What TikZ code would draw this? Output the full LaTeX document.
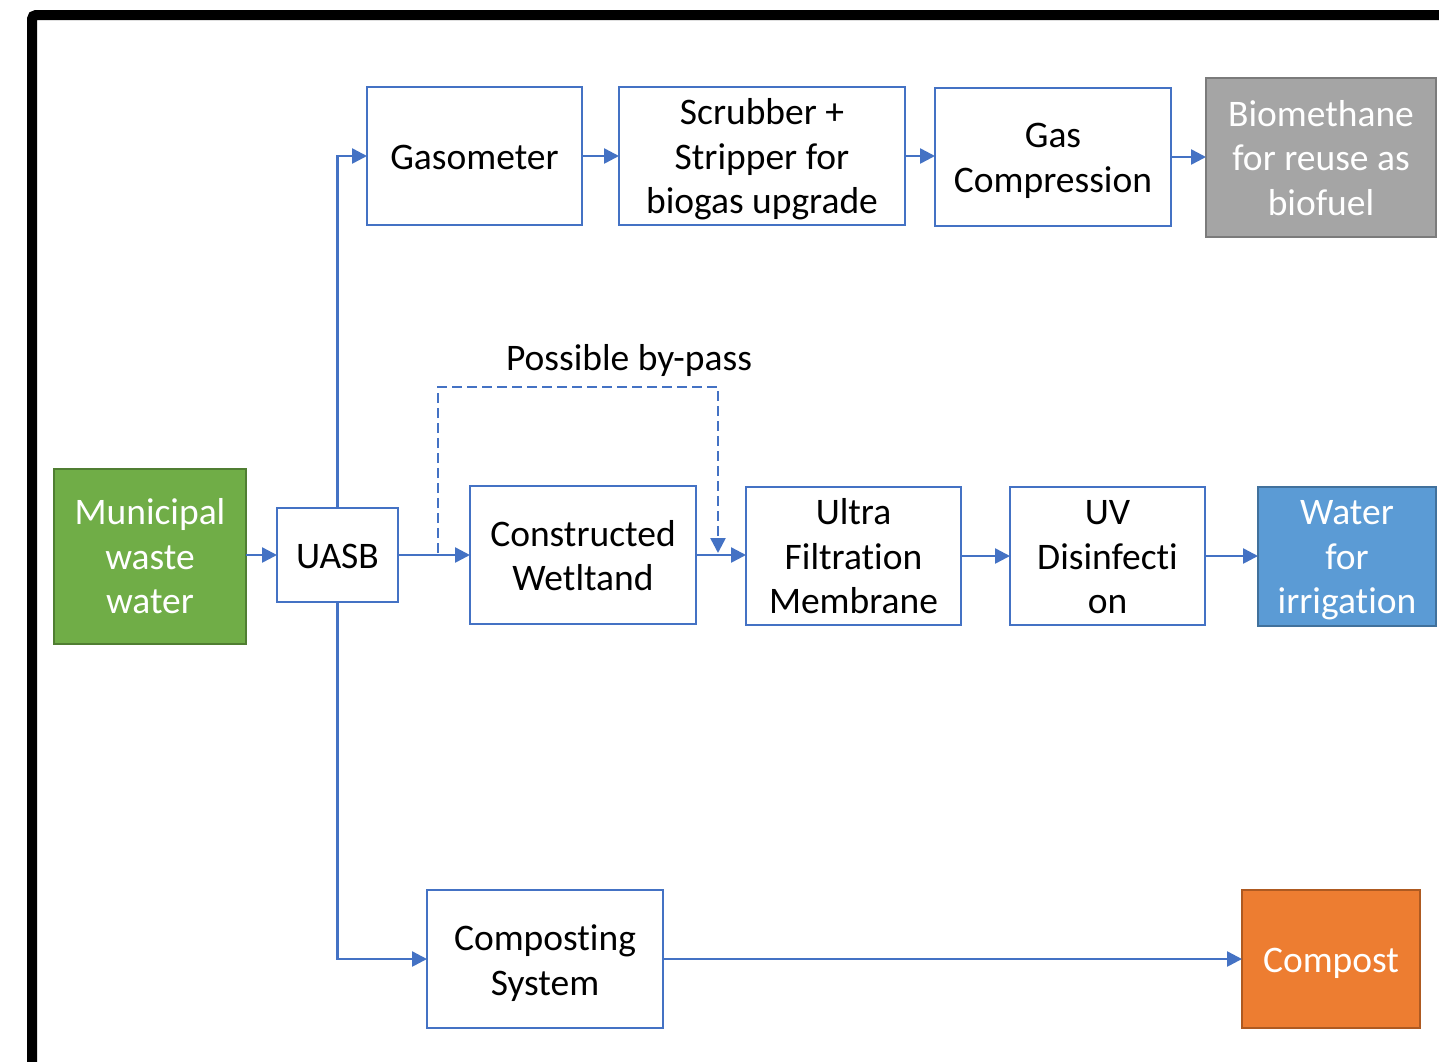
\documentclass[tikz,border=0pt]{standalone}
\usepackage{fontspec}
\setmainfont{Carlito}[Ligatures=NoCommon]
\usetikzlibrary{arrows.meta}
\definecolor{lblue}{HTML}{4472C4}
\definecolor{ggreen}{HTML}{70AD47}
\definecolor{ggreenb}{HTML}{507E32}
\definecolor{ggray}{HTML}{A5A5A5}
\definecolor{ggrayb}{HTML}{7B7B7B}
\definecolor{wblue}{HTML}{5B9BD5}
\definecolor{wblueb}{HTML}{41719C}
\definecolor{corange}{HTML}{ED7D31}
\definecolor{corangeb}{HTML}{AE5A21}
\newcommand\mltext[2][4.5pt]{\raisebox{-#1}[\height][\depth]{\begin{tabular}{@{}c@{}}#2\end{tabular}}}
\tikzset{
  box/.style={draw=lblue, line width=2.5pt, fill=white, inner sep=0pt, outer sep=0pt,
    align=center, font=\fontsize{37.5}{44.5}\selectfont},
  colbox/.style={box, text=white},
  arr/.style={draw=lblue, line width=2.5pt, -{Triangle[length=15pt,width=15pt]}},
  bypass/.style={arr, dash pattern=on 10pt off 5pt},
}
\begin{document}
\begin{tikzpicture}[x=1pt,y=1pt]
\useasboundingbox (0,0) rectangle (1439,-1061);
\clip (0,0) rectangle (1439,-1061);
\fill[white] (0,0) rectangle (1439,-1061);
\draw[black, line width=10pt, rounded corners=4pt] (32,-15) rectangle (1480,-1100);

\node[colbox, fill=ggreen, draw=ggreenb, minimum width=192pt, minimum height=175pt] (mww) at (150,-556.5) {\mltext[4pt]{Municipal\\waste\\water}};
\node[box, minimum width=121pt, minimum height=94pt] (uasb) at (337.5,-555) {\mltext[5pt]{UASB}};
\node[box, minimum width=215pt, minimum height=138pt] (gaso) at (474.5,-156) {\mltext[5pt]{Gasometer}};
\node[box, minimum width=286pt, minimum height=138pt] (scrub) at (762,-156) {\mltext[4.5pt]{Scrubber +\\Stripper for\\biogas upgrade}};
\node[box, minimum width=236pt, minimum height=138pt] (gcomp) at (1053,-157) {\mltext[4pt]{Gas\\Compression}};
\node[colbox, fill=ggray, draw=ggrayb, minimum width=230pt, minimum height=159pt] (bio) at (1321,-157.5) {\mltext[4.5pt]{Biomethane\\for reuse as\\biofuel}};
\node[box, minimum width=226pt, minimum height=138pt] (cw) at (583,-555) {\mltext[4.5pt]{Constructed\\Wetltand}};
\node[box, minimum width=215pt, minimum height=138pt] (uf) at (853.5,-556) {\mltext[4.5pt]{Ultra\\Filtration\\Membrane}};
\node[box, minimum width=195pt, minimum height=138pt] (uv) at (1107.5,-556) {\mltext[4.5pt]{UV\\Disinfecti\\on}};
\node[colbox, fill=wblue, draw=wblueb, minimum width=178pt, minimum height=139pt] (water) at (1347,-556.5) {\mltext[4pt]{Water\\for\\irrigation}};
\node[box, minimum width=236pt, minimum height=138pt] (compsys) at (545,-959) {\mltext[5pt]{Composting\\System}};
\node[colbox, fill=corange, draw=corangeb, minimum width=178pt, minimum height=138pt] (compost) at (1331,-959) {\mltext[5pt]{Compost}};

\node[font=\fontsize{37.5}{44.5}\selectfont, inner sep=0pt] (bplabel) at (629,-360) {Possible by-pass};

\coordinate (bp1) at (438,-553);
\coordinate (bp2) at (718,-553);

\draw[arr] (mww.east |- uasb.west) -- (uasb.west);
\draw[arr] (uasb.north) |- (gaso.west);
\draw[arr] (gaso.east) -- (scrub.west);
\draw[arr] (scrub.east) -- (scrub.east -| gcomp.west);
\draw[arr] (gcomp.east) -- (gcomp.east -| bio.west);
\draw[arr] (uasb.east) -- (cw.west);
\draw[arr] (cw.east) -- (cw.east -| uf.west);
\draw[arr] (uf.east) -- (uv.west);
\draw[arr] (uv.east) -- (uv.east -| water.west);
\draw[arr] (uasb.south) |- (compsys.west);
\draw[arr] (compsys.east) -- (compost.west);
\draw[bypass] (bp1) -- ++(0,166) -| (bp2);
\end{tikzpicture}
\end{document}
